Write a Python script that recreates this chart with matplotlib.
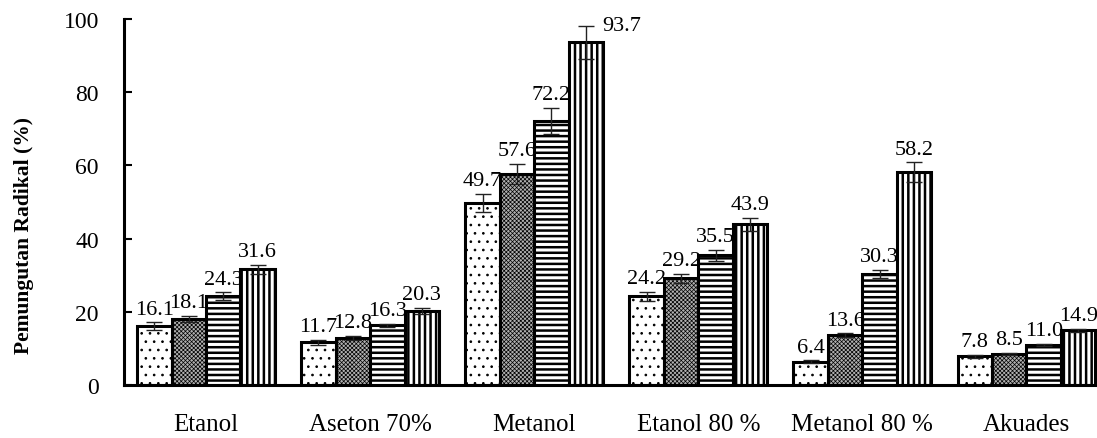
import matplotlib
matplotlib.use("Agg")
import matplotlib.pyplot as plt
import numpy as np

plt.rcParams['font.family'] = ['Liberation Serif', 'DejaVu Serif']

categories = ["Etanol", "Aseton 70%", "Metanol", "Etanol 80 %", "Metanol 80 %", "Akuades"]
s1 = [16.1, 11.7, 49.7, 24.2, 6.4, 7.8]
s2 = [18.1, 12.8, 57.6, 29.2, 13.6, 8.5]
s3 = [24.3, 16.3, 72.2, 35.5, 30.3, 11.0]
s4 = [31.6, 20.3, 93.7, 43.9, 58.2, 14.9]
e1 = [1.0, 0.7, 2.5, 1.3, 0.3, 0.4]
e2 = [0.8, 0.6, 2.8, 1.2, 0.5, 0.3]
e3 = [1.0, 0.4, 3.5, 1.5, 1.2, 0.3]
e4 = [1.2, 0.8, 4.5, 1.8, 2.6, 0.4]

series = [s1, s2, s3, s4]
errs = [e1, e2, e3, e4]
faces = ['white', '#b0b0b0', 'white', 'white']
hatches = ['..', 'xxxxxxxx', '---', '|||']
hlw = [0.7, 0.5, 1.8, 1.8]
hcol = ['#333333', '#5a5a5a', 'black', 'black']

fig = plt.figure(figsize=(10.97, 4.39), dpi=100)
ax = fig.add_axes([124/1097, 53/439, 1 - 124/1097, (386-20)/439])

x = np.arange(len(categories))
w = 0.21
for i, (vals, er) in enumerate(zip(series, errs)):
    pos = x + (i - 1.5) * w
    with plt.rc_context({'hatch.linewidth': hlw[i], 'hatch.color': hcol[i]}):
        bars = ax.bar(pos, vals, w, facecolor=faces[i], edgecolor='black', linewidth=2.2,
                      hatch=hatches[i], zorder=2)
        for b in bars:
            try:
                b.set_hatch_linewidth(hlw[i])
            except Exception:
                pass
    ax.errorbar(pos, vals, yerr=er, fmt='none', ecolor='#222222', elinewidth=1.0,
                capsize=6, capthick=1.0, zorder=3)
    for p, v, e in zip(pos, vals, er):
        top = v + e
        if top + 6 > 100:
            ax.text(p + 0.1, top, f"{v:.1f}", ha='left', va='center', fontsize=16)
        else:
            ax.text(p, top + 1.0, f"{v:.1f}", ha='center', va='bottom', fontsize=16)

ax.set_xlim(-0.5, 5.43)
ax.set_ylim(0, 100)
ax.set_yticks([0, 20, 40, 60, 80, 100])
ax.set_xticks(x)
ax.set_xticklabels(categories, fontsize=18)
ax.tick_params(axis='x', length=0, pad=20)
ax.tick_params(axis='y', direction='in', length=6, width=1.5, labelsize=17, pad=18)
ax.set_ylabel("Pemungutan Radikal (%)", fontsize=15.5, fontweight='bold')
ax.yaxis.set_label_coords(-0.092, 0.41)
for s in ['top', 'right']:
    ax.spines[s].set_visible(False)
for s in ['left', 'bottom']:
    ax.spines[s].set_linewidth(2.2)

fig.savefig("out.png", dpi=100)
